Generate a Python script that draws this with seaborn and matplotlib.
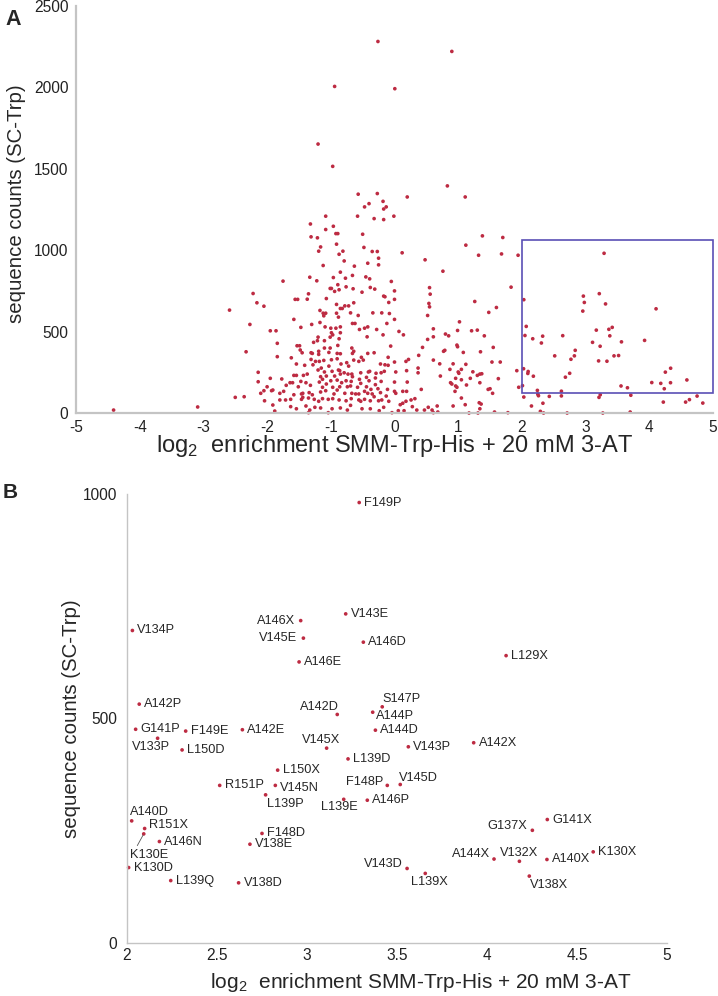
import pandas as pd
import seaborn as sns
import matplotlib.pyplot as plt
from matplotlib.patches import Rectangle

# panel A: variants that are not in the zoomed box (log2 enrichment, sequence counts)
a_x = [-0.26, 0.90, -0.94, 0.005, -1.20, -0.97, 0.83, -0.57, -0.27, 1.11, 0.20, -0.47, -0.40, -0.18, -0.17, -0.13, -0.32, -0.17, -0.01, -1.08, -0.58,
       -4.41, -3.09, -2.59, -2.50, -2.36, -2.33, -2.27, -2.22, -2.16, -2.05, -2.14, -2.14, -2.10, -2.05, -2.04, -2.00, -1.95, -1.95, -1.86, -1.84, -1.84, -1.75, -1.91, -1.88, -1.93,
       -1.32, -0.96, -1.08, -1.31, -1.21, -0.92, -0.89, -0.91, -1.16, -1.19, -0.87, -0.81,
       -0.79, -1.12, -0.85, -1.33, -1.22, -0.96, -0.89, -1.01, -0.99, -0.87, -0.94, -0.76,
       -1.56, -1.52, -1.37, -1.35, -1.07, -0.91, -0.85, -0.82, -0.78, -0.72, -1.17, -1.12,
       -1.08, -0.91, -1.11, -0.88, -1.58, -1.17, -1.30, -1.47, -1.09, -1.00, -0.92, -0.85,
       -0.99, -0.85, -0.97, -1.20, -1.01, -0.87, -1.27, -1.21, -1.10, -1.53, -1.49, -0.89,
       -1.10, -1.01, -1.48, -1.45, -1.31, -1.29, -1.19, -0.90, -1.19, -1.03, -0.85, -1.62,
       -1.31, -1.24, -1.18, -1.11, -0.99, -0.90, -1.54, -1.41, -1.28, -1.15, -1.03, -0.84,
       -0.75, -0.72, -0.88, -0.86, -1.20, -1.10, -0.98, -0.79, -1.58, -1.54, -1.43, -1.37,
       -1.16, -1.07, -0.94, -0.85, -0.73, -1.77, -1.13, -1.00, -0.90, -1.64, -1.60, -1.47,
       -1.39, -1.18, -1.07, -0.83, -0.76, -1.70, -1.51, -1.32, -1.13, -0.97, -0.86, -0.74,
       -1.91, -1.80, -1.74, -1.58, -1.46, -1.44, -1.34, -1.29, -1.16, -1.08, -0.95, -0.90,
       -0.78, -1.80, -1.71, -1.63, -1.46, -1.44, -1.35, -1.26, -1.19, -1.13, -1.04, -0.97,
       -0.87, -0.76, -1.63, -1.54, -1.39, -1.33, -1.25, -1.16, -1.04, -0.98, -0.85, -1.35, -0.74,
       -0.50, -0.48, -0.35, -0.27, -0.25, 0.12, 0.48, -0.42, -0.25, -0.63, -0.66, -0.77,
       -0.45, -0.39, -0.05, -0.65, -0.38, -0.31, -0.51, 0.00, -0.17, -0.15, 0.55, 0.56,
       -0.09, 0.00, -0.64, -0.69, -0.57, -0.34, -0.20, -0.08, 0.55, 0.54,
       0.52, 0.00, -0.66, -0.62, -0.12, -0.55, -0.47, -0.42, -0.28, -0.43, -0.18, 0.07,
       0.14, 0.61, 0.61, 0.52, -0.67, 0.44, -0.06, -0.66, -0.64, -0.42, -0.32, -0.10,
       0.38, 0.22, 0.18, 0.61, -0.64, -0.56, -0.52, -0.49, -0.22, -0.15, -0.10, 0.00,
       -0.67, -0.53, -0.41, -0.39, -0.29, -0.21, -0.16, 0.02, 0.19, 0.37, 0.37, -0.66,
       -0.68, -0.55, -0.53, -0.44, -0.40, -0.30, -0.21, 0.00, 0.20, -0.69, -0.58, -0.44,
       -0.37, -0.30, -0.26, -0.11, 0.42, -0.67, -0.61, -0.56, -0.47, -0.42, -0.35, -0.32,
       -0.22, -0.13, 0.00, 0.02, 0.13, 0.19, -0.68, -0.56, -0.53, -0.47, -0.38, -0.25,
       -0.20, -0.09, 0.09, 0.13, 0.18, 0.26, 0.32, -0.69, -0.51, -0.38, -0.24, -0.17,
       -0.04, 0.06, 0.15, 0.28, 0.35, 0.47, 0.53, 0.59,
       1.38, 1.70, 1.12, 1.32, 1.68, 1.94, 0.76, 1.83, 1.26, 1.60, 1.48, 1.02,
       0.80, 0.85, 0.99, 1.21, 1.30, 1.41, 0.98, 0.99, 0.79, 0.77, 1.08, 1.35,
       1.55, 0.71, 0.92, 1.12, 0.87, 1.00, 1.01, 1.05, 1.23, 1.53, 1.66, 1.30,
       1.34, 1.37, 0.72, 1.92, 0.96, 1.19, 1.05, 1.63, 0.88, 0.90, 0.96, 0.98,
       1.13, 1.34, 1.47, 1.50, 1.54, 0.95, 1.95, 1.05, 1.33, 1.36, 1.34, 1.11,
       0.67, 0.68, 0.61, 0.92, 1.17, 1.31, 1.57, 1.78,
       2.03, 2.26, 2.25, 2.15, 2.29, 2.34, 2.33, 2.43, 2.62, 2.71, 3.23, 3.21,
       3.27, 3.70, 3.71, 4.22, 4.57, 4.63, 4.75, 4.84]
a_y = [2282, 2221, 2006, 1992, 1652, 1515, 1395, 1344, 1348, 1327, 1327, 1266, 1286, 1300, 1253, 1266, 1194, 1188, 1209, 1209, 1209,
       18, 37, 632, 96, 100, 376, 544, 734, 677, 656, 250, 192, 121, 137, 75, 161, 213, 505, 505, 428, 346, 810, 49, 12, 137,
       1161, 1147, 1127, 1082, 1076, 1102, 1102, 1037, 1020, 994, 975, 994,
       934, 906, 865, 834, 812, 832, 788, 765, 765, 757, 747, 775,
       698, 698, 699, 732, 703, 667, 642, 642, 658, 658, 630, 613,
       613, 613, 597, 589, 575, 556, 544, 526, 529, 521, 521, 529,
       493, 493, 480, 466, 466, 456, 434, 444, 444, 413, 413, 415,
       399, 399, 387, 370, 370, 366, 379, 366, 360, 372, 364, 339,
       329, 317, 317, 323, 327, 333, 301, 293, 296, 276, 288, 301,
       309, 288, 264, 260, 264, 252, 256, 247, 231, 231, 231, 239,
       223, 227, 227, 239, 239, 209, 207, 198, 202, 186, 186, 194,
       186, 190, 178, 186, 198, 170, 161, 170, 158, 158, 161, 161,
       141, 121, 133, 112, 117, 121, 125, 112, 129, 137, 117, 141,
       121, 80, 80, 84, 84, 96, 92, 84, 72, 88, 84, 88,
       80, 75, 39, 26, 43, 18, 35, 31, 2, 26, 31, 2, 18,
       1098, 1017, 992, 992, 951, 984, 941, 920, 910, 902, 845, 828,
       836, 824, 808, 763, 771, 761, 742, 750, 718, 714, 770, 730,
       679, 698, 677, 615, 599, 615, 615, 611, 652, 673,
       599, 575, 550, 550, 550, 513, 521, 529, 513, 468, 480, 501,
       480, 517, 468, 452, 399, 403, 411, 366, 379, 366, 370, 342,
       354, 329, 317, 325, 325, 317, 342, 325, 301, 296, 293, 313,
       239, 247, 252, 256, 244, 247, 256, 252, 260, 247, 276, 223,
       194, 207, 182, 219, 198, 215, 194, 190, 190, 166, 158, 161,
       145, 174, 149, 145, 145, 121, 117, 117, 133, 121, 117, 100,
       125, 104, 133, 121, 133, 133, 88, 80, 72, 84, 75, 75,
       80, 72, 51, 60, 72, 80, 88, 47, 26, 26, 14, 35,
       2, 14, 14, 39, 18, 18, 35, 18,
       1088, 1078, 1031, 969, 977, 969, 871, 773, 685, 648, 618, 560,
       485, 474, 507, 505, 509, 474, 417, 407, 385, 379, 372, 376,
       403, 302, 302, 299, 268, 252, 244, 268, 253, 313, 313, 231,
       239, 241, 227, 260, 213, 213, 204, 211, 186, 178, 166, 158,
       172, 186, 145, 149, 121, 133, 158, 92, 63, 55, 26, 51,
       43, 6, 2, 43, 0, 0, 6, 2,
       98, 106, 115, 43, 10, 0, 60, 102, 105, 0, 112, 96,
       0, 6, 109, 67, 67, 82, 104, 61]

# panel B: the boxed variants, labelled
b_label = ["F149P", "V134P", "A146X", "V143E", "V145E", "A146D", "A146E", "L129X",
           "A142P", "S147P", "A144P", "A142D", "G141P", "F149E", "A142E", "A144D",
           "V133P", "A142X", "V143P", "V145X", "L150D", "L139D", "L150X", "R151P",
           "V145N", "F148P", "V145D", "L139P", "L139E", "A146P", "G141X", "A140D",
           "R151X", "G137X", "K130E", "F148D", "A146N", "V138E", "K130X", "A144X",
           "A140X", "V132X", "K130D", "V143D", "L139X", "V138X", "L139Q", "V138D"]
b_x = [3.29, 2.03, 2.965, 3.215, 2.98, 3.313, 2.956, 4.106,
       2.068, 3.418, 3.365, 3.168, 2.048, 2.326, 2.641, 3.38,
       2.17, 3.926, 3.563, 3.109, 2.306, 3.228, 2.837, 2.515,
       2.824, 3.446, 3.518, 2.77, 3.204, 3.335, 4.335, 2.026,
       2.098, 4.252, 2.093, 2.75, 2.18, 2.683, 4.59, 4.039,
       4.333, 4.18, 2.009, 3.556, 3.657, 4.235, 2.243, 2.62]
b_y = [981, 696, 718, 733, 679, 670, 626, 640,
       532, 526, 514, 509, 476, 472, 475, 474,
       456, 446, 437, 434, 430, 410, 385, 351,
       351, 351, 353, 330, 320, 318, 275, 272,
       255, 251, 243, 244, 226, 220, 203, 187,
       186, 182, 168, 166, 155, 149, 139, 134]

a_xticks = [-5, -4, -3, -2, -1, 0, 1, 2, 3, 4, 5]
a_yticks = [0, 500, 1000, 1500, 2000, 2500]
b_xticks = [2, 2.5, 3, 3.5, 4, 4.5, 5]
b_xticklabels = ["2", "2.5", "3", "3.5", "4", "4.5", "5"]
b_yticks = [0, 500, 1000]
zoom_box = (2, 120, 5, 1065)

# label placement in panel B: pixel offset from the dot, alignment
label_layout = {
    "A146X": (-6, 0, "right", "center"), "V145E": (-6, 0, "right", "center"),
    "F148P": (-4, 3, "right", "center"), "G137X": (-5, 4, "right", "center"),
    "A144X": (-4, 5, "right", "center"), "V143D": (-4, 4, "right", "center"),
    "A142D": (2, 1, "right", "bottom"), "S147P": (0, 2, "left", "bottom"),
    "A144P": (3, -4, "left", "center"), "V145D": (-1, 1, "left", "bottom"),
    "V132X": (0, 2, "center", "bottom"), "V138X": (1, -3, "left", "top"),
    "L139X": (-14, -3, "left", "top"), "V133P": (-7, -3, "center", "top"),
    "V145X": (-6, 2, "center", "bottom"), "L139P": (1, -3, "left", "top"),
    "L139E": (-4, -2, "center", "top"), "A140D": (-2, 3, "left", "bottom"),
    "R151X": (4, 4, "left", "center"), "V145N": (5, -3, "left", "center"),
}

sns.set_style("white")
plt.rcParams['font.family'] = ['Liberation Sans', 'DejaVu Sans']
plt.rcParams['axes.unicode_minus'] = False

dot_color = "#bd2b42"
spine_color = "#c4c4c4"
xlab = r"log$_\mathregular{2}$  enrichment SMM-Trp-His + 20 mM 3-AT"
ylab = "sequence counts (SC-Trp)"

fig = plt.figure(figsize=(7.18, 9.96), dpi=100)
axA = fig.add_axes([76 / 718, 1 - 413 / 996, 637 / 718, 407 / 996])
axB = fig.add_axes([127 / 718, 53 / 996, 540 / 718, 449 / 996])

# panel A
dfA = pd.DataFrame({"x": a_x + b_x, "y": a_y + b_y})
sns.scatterplot(data=dfA, x="x", y="y", ax=axA, s=7, color=dot_color,
                edgecolor="none", linewidth=0, clip_on=False)
axA.set_xlim(-5, 5)
axA.set_ylim(0, 2500)
axA.set_xticks(a_xticks)
axA.set_yticks(a_yticks)
axA.add_patch(Rectangle((zoom_box[0], zoom_box[1]), zoom_box[2] - zoom_box[0],
                        zoom_box[3] - zoom_box[1], fill=False, edgecolor="#5a4fb5",
                        linewidth=1.2, clip_on=False))
axA.set_xlabel(xlab, fontsize=17)
axA.set_ylabel(ylab, fontsize=14.7)
axA.xaxis.set_label_coords(0.5, -0.05)
axA.yaxis.set_label_coords(-0.078, 0.515)
fig.text(0.008, 0.991, "A", fontsize=15.5, fontweight="bold", va="top")

# panel B
dfB = pd.DataFrame({"x": b_x, "y": b_y, "label": b_label})
sns.scatterplot(data=dfB, x="x", y="y", ax=axB, s=7, color=dot_color,
                edgecolor="none", linewidth=0, clip_on=False)
axB.set_xlim(2, 5)
axB.set_ylim(0, 1000)
axB.set_xticks(b_xticks)
axB.set_xticklabels(b_xticklabels)
axB.set_yticks(b_yticks)
for lbl, x, y in zip(b_label, b_x, b_y):
    dx, dy, ha, va = label_layout.get(lbl, (5, 0, "left", "center"))
    if lbl == "K130E":
        axB.annotate(lbl, (x, y), xytext=(-14 * 0.72, -21 * 0.72), textcoords="offset points",
                     ha="left", va="center", fontsize=9.2,
                     arrowprops=dict(arrowstyle="-", color="#555555", lw=0.6,
                                     shrinkA=0, shrinkB=1, relpos=(0.15, 1.0)))
    else:
        axB.annotate(lbl, (x, y), xytext=(dx * 0.72, dy * 0.72), textcoords="offset points",
                     ha=ha, va=va, fontsize=9.2)
axB.set_xlabel(xlab, fontsize=15)
axB.set_ylabel(ylab, fontsize=14.7)
axB.xaxis.set_label_coords(0.544, -0.062)
axB.yaxis.set_label_coords(-0.085, 0.5)
fig.text(0.004, 0.515, "B", fontsize=15, fontweight="bold", va="top")

for ax, lw in ((axA, 1.6), (axB, 1.0)):
    sns.despine(ax=ax)
    ax.spines["left"].set_color(spine_color)
    ax.spines["bottom"].set_color(spine_color)
    ax.spines["left"].set_linewidth(lw)
    ax.spines["bottom"].set_linewidth(lw)
    ax.tick_params(length=0, labelsize=11.2, colors="#222222")
axA.tick_params(axis="y", pad=5.5)
axA.tick_params(axis="x", pad=5)
axB.tick_params(axis="y", pad=7)
axB.tick_params(axis="x", pad=3.5)

fig.savefig("out.png", dpi=100)
